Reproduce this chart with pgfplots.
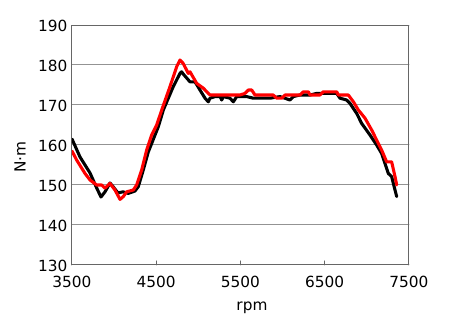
\documentclass[border=0pt]{standalone}
\usepackage{fontspec}
\setmainfont{DejaVu Sans}
\usepackage{pgfplots}
\pgfplotsset{compat=1.18}
\begin{document}
\begin{tikzpicture}[x=1pt,y=1pt]
\useasboundingbox (0,0) rectangle (337.5,245.25);
\begin{axis}[at={(54pt,46.5pt)}, anchor=south west, scale only axis,
  width=252.75pt, height=180pt,
  xmin=3500, xmax=7500, ymin=130, ymax=190,
  xtick={3500,4500,5500,6500,7500}, ytick={130,140,...,190},
  ymajorgrids, grid style={gray!85, line width=0.75pt},
  axis line style={black!60, line width=0.75pt},
  tick align=inside, xtick pos=bottom, ytick pos=left,
  major tick length=3pt, ytick style={draw=none},
  xtick style={black!60, line width=0.75pt},
  font=\fontsize{11.5}{13}\selectfont,
  xticklabel style={yshift=-4.5pt},
  yticklabel style={yshift=-1pt},
  /pgf/number format/assume math mode=true,
  /pgf/number format/1000 sep={},
  xlabel={rpm}, ylabel={N·m},
  xlabel style={at={(axis description cs:0.534,-0.18)}, anchor=center},
  ylabel style={at={(axis description cs:-0.154,0.45)}, anchor=center},
  line join=round, line cap=round,
]
\addplot[black, line width=2.3pt, mark=none] coordinates {
(3500,161.5)(3595,157)(3714,153)(3793,149.25)(3844,147)(3892,148.3)(3951,150.5)
(3987,149.6)(4046,148)(4105,148.3)(4168,147.9)(4248,148.5)(4287,149.6)
(4346,153.75)(4406,158.3)(4446,160.4)(4525,164.6)(4584,168.75)(4702,174.6)
(4782,177.9)(4801,178.3)
(4820,177.75)(4900,175.8)(4960,175.8)(5019,173.75)(5079,171.7)(5118,170.8)
(5138,171.7)(5197,172.1)(5257,172.1)(5277,171.25)(5296,172.1)(5375,171.7)
(5415,170.8)(5455,172.1)(5574,172.1)(5652,171.7)(5850,171.7)(5969,172.1)
(6088,171.25)(6127,172.1)(6206,172.5)(6325,172.5)(6404,172.9)(6642,172.9)
(6681,171.7)(6760,171.25)(6800,170.4)(6879,167.9)(6938,165.4)(7037,162.5)
(7116,160)(7175,157.9)(7215,155.4)(7254,152.9)(7294,152.1)(7334,148.75)(7354,147.1)
};
\addplot[red, line width=2.3pt, mark=none] coordinates {
(3500,158.5)(3555,156.25)(3654,152.9)(3714,151.25)(3793,150)(3852,150)(3892,149.2)
(3951,150.4)(4010,148.75)(4070,146.4)(4109,147.1)(4149,148.3)(4228,148.75)
(4267,150)(4327,153.75)(4386,158.75)(4446,162.5)(4505,165)(4565,168.75)(4663,174.6)
(4743,179.6)(4782,181.25)(4820,180.4)(4880,177.9)(4901,178.3)(4980,175.4)
(5059,174.2)(5118,172.9)(5138,172.5)(5494,172.5)(5553,172.9)(5593,173.75)
(5633,173.75)(5672,172.5)(5889,172.5)(5929,171.7)(5989,171.7)(6028,172.5)
(6206,172.5)(6246,173.3)(6305,173.3)(6325,172.5)(6444,172.5)(6483,173.3)
(6642,173.3)(6661,172.5)(6780,172.5)(6840,170.8)(6899,168.75)(6978,166.7)
(7057,163.75)(7116,161.25)(7175,158.75)(7235,155.8)(7294,155.8)(7334,152.1)(7354,150)
};
\end{axis}
\end{tikzpicture}
\end{document}
